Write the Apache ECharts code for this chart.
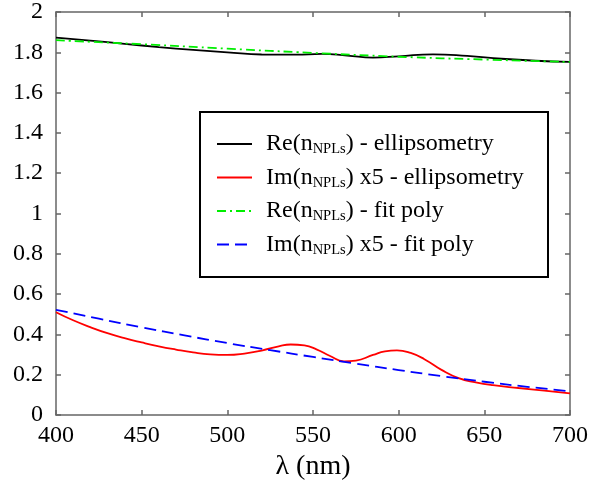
<!DOCTYPE html>
<html>
<head>
<meta charset="utf-8">
<script src="https://cdn.jsdelivr.net/npm/echarts@6/dist/echarts.min.js"></script>
<style>html,body{margin:0;padding:0;background:#fff}#c{width:591px;height:493px}</style>
</head>
<body>
<div id="c"></div>
<script>
const seriesNames = ['Re(n_NPLs) - ellipsometry','Im(n_NPLs) x5 - ellipsometry','Re(n_NPLs) - fit poly','Im(n_NPLs) x5 - fit poly'];
const reEllX = [400,420,440,460,480,500,520,540,555,570,585,600,620,640,660,680,700];
const reEllY = [1.873,1.858,1.842,1.826,1.812,1.800,1.789,1.788,1.792,1.784,1.774,1.780,1.790,1.782,1.768,1.758,1.752];
const imEllX = [400,410,420,430,440,450,460,470,480,490,500,510,520,530,537,545,552,560,568,575,585,592,599,607,615,625,635,645,655,670,685,700];
const imEllY = [0.510,0.470,0.436,0.406,0.381,0.360,0.341,0.325,0.311,0.301,0.298,0.305,0.320,0.341,0.350,0.345,0.326,0.293,0.266,0.270,0.298,0.316,0.321,0.308,0.277,0.224,0.183,0.162,0.148,0.134,0.121,0.107];
const reFitX = [400,450,500,550,600,650,700];
const reFitY = [1.860,1.840,1.818,1.797,1.778,1.764,1.752];
const imFitX = [400,425,450,475,500,525,550,575,600,625,650,675,700];
const imFitY = [0.522,0.478,0.435,0.395,0.357,0.322,0.288,0.255,0.223,0.193,0.165,0.140,0.118];
const xTicks = {min:400, max:700, interval:50};
const yTicks = {min:0, max:2, interval:0.2};

const zip = (xs, ys) => xs.map((x,i)=>[x, ys[i]]);
const font = 'Liberation Serif';
const axisColor = '#666';
const mkX = (pos, show) => ({
  type:'value', position:pos, min:xTicks.min, max:xTicks.max, interval:xTicks.interval,
  axisLine:{show:true, onZero:false, lineStyle:{color:axisColor, width:1.5}},
  axisTick:{show:true, inside:true, length:5, lineStyle:{color:axisColor, width:1.5}},
  axisLabel:{show:show, color:'#000', fontFamily:font, fontSize:24, margin:9},
  splitLine:{show:false},
  name: show ? 'λ (nm)' : '', nameLocation:'middle', nameGap:37,
  nameTextStyle:{color:'#000', fontFamily:font, fontSize:28}
});
const mkY = (pos, show) => ({
  type:'value', position:pos, min:yTicks.min, max:yTicks.max, interval:yTicks.interval,
  axisLine:{show:true, onZero:false, lineStyle:{color:axisColor, width:1.5}},
  axisTick:{show:true, inside:true, length:5, lineStyle:{color:axisColor, width:1.5}},
  axisLabel:{show:show, color:'#000', fontFamily:font, fontSize:24, margin:13},
  splitLine:{show:false}
});
const fmt = name => {
  const m = name.split('_NPLs');
  return '{a|' + m[0] + '}{b|NPLs}{a|' + m[1] + '}';
};
const chart = echarts.init(document.getElementById('c'), null, {renderer:'canvas'});
chart.setOption({
  animation:false,
  backgroundColor:'#fff',
  grid:{left:56, right:21, top:10, bottom:78},
  xAxis:[mkX('bottom', true), mkX('top', false)],
  yAxis:[mkY('left', true), mkY('right', false)],
  graphic:[{type:'rect', shape:{x:200, y:112, width:348, height:165}, style:{fill:'#fff', stroke:'#000', lineWidth:2}, z:50}],
  legend:{
    orient:'vertical', left:216, top:132, itemWidth:35, itemHeight:14, itemGap:8.5, z:60,
    padding:0,
    itemStyle:{opacity:0},
    textStyle:{fontFamily:font, color:'#000', padding:[0,0,0,9],
      rich:{
        a:{fontFamily:font, fontSize:24, color:'#000', lineHeight:26},
        b:{fontFamily:font, fontSize:14.5, color:'#000', lineHeight:16, verticalAlign:'bottom'}
      }},
    formatter: fmt,
    data: seriesNames
  },
  series:[
    {name:seriesNames[0], type:'line', smooth:true, symbol:'none', data:zip(reEllX, reEllY), lineStyle:{color:'#000', width:1.8}, itemStyle:{color:'#000'}, z:3},
    {name:seriesNames[1], type:'line', smooth:true, symbol:'none', data:zip(imEllX, imEllY), lineStyle:{color:'#ff0000', width:1.8}, itemStyle:{color:'#ff0000'}, z:3},
    {name:seriesNames[2], type:'line', smooth:true, symbol:'none', data:zip(reFitX, reFitY), lineStyle:{color:'#00ee00', width:1.8, type:[9,4,2,4]}, itemStyle:{color:'#00ee00'}, z:4},
    {name:seriesNames[3], type:'line', smooth:true, symbol:'none', data:zip(imFitX, imFitY), lineStyle:{color:'#0000ff', width:1.8, type:[12,6]}, itemStyle:{color:'#0000ff'}, z:4}
  ]
});
</script>
</body>
</html>
